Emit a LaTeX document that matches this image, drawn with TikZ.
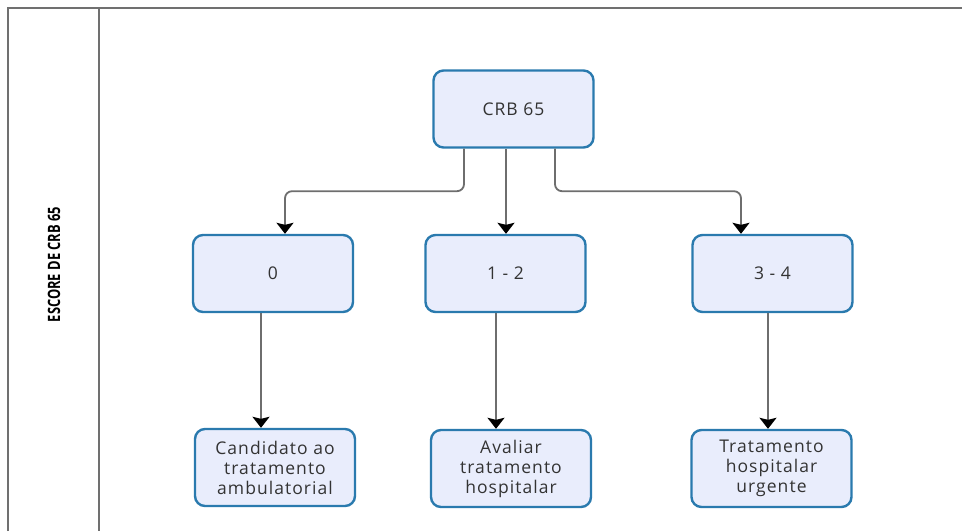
\documentclass[tikz,border=0pt]{standalone}
\usepackage{fontspec}
\setmainfont{Open Sans}
\newfontfamily\boxfont[LetterSpace=6]{Open Sans}
\usetikzlibrary{arrows.meta}
\definecolor{boxblue}{HTML}{2A7AAE}
\definecolor{boxfill}{HTML}{E9EDFC}
\definecolor{linegray}{HTML}{6E6E6E}
\definecolor{framegray}{HTML}{707070}
\definecolor{txtgray}{HTML}{333333}
\begin{document}
\begin{tikzpicture}[x=1pt,y=-1pt,
  box/.style={draw=boxblue, fill=boxfill, line width=2.4pt, rounded corners=10pt,
    minimum width=160pt, minimum height=77pt, align=center, inner sep=0pt,
    font=\boxfont\fontsize{17.5}{20}\selectfont, text=txtgray},
  conn/.style={draw=linegray, line width=1.8pt, rounded corners=7pt,
    -{Stealth[length=11pt,width=17pt,inset=2pt,color=black]}},
  frame/.style={draw=framegray, line width=1.8pt}
]
\useasboundingbox (0,0) rectangle (962,531);
% frame
\draw[frame] (8,531) -- (8,8) -- (962,8);
\draw[frame] (99,8) -- (99,531);
\node[rotate=90, text=black, font=\fontsize{17}{20}\selectfont\bfseries] (lbl) at (54,264.5)
  {\scalebox{0.76}[1]{ESCORE DE CRB 65}};
% nodes
\node[box] (crb) at (513.5,109) {CRB 65};
\node[box] (n0) at (273,273.5) {0};
\node[box] (n12) at (505.5,273.5) {1 - 2};
\node[box] (n34) at (772.5,273.5) {3 - 4};
\node[box] (c) at (275,467.5) {Candidato ao\\tratamento\\ambulatorial};
\node[box] (a) at (511,468.5) {Avaliar\\tratamento\\hospitalar};
\node[box] (t) at (771.5,468.5) {Tratamento\\hospitalar\\urgente};
% connectors
\draw[conn] ([xshift=-49.5pt]crb.south) -- ++(0,42.5) -| ([xshift=12pt]n0.north);
\draw[conn] ([xshift=-7.5pt]crb.south) -- ([xshift=-7.5pt]crb.south |- n12.north);
\draw[conn] ([xshift=41.5pt]crb.south) -- ++(0,42.5) -| ([xshift=-31.5pt]n34.north);
\draw[conn] ([xshift=-12pt]n0.south) -- ([xshift=-12pt]n0.south |- c.north);
\draw[conn] ([xshift=-9.5pt]n12.south) -- ([xshift=-9.5pt]n12.south |- a.north);
\draw[conn] ([xshift=-4.5pt]n34.south) -- ([xshift=-4.5pt]n34.south |- t.north);
\end{tikzpicture}
\end{document}
